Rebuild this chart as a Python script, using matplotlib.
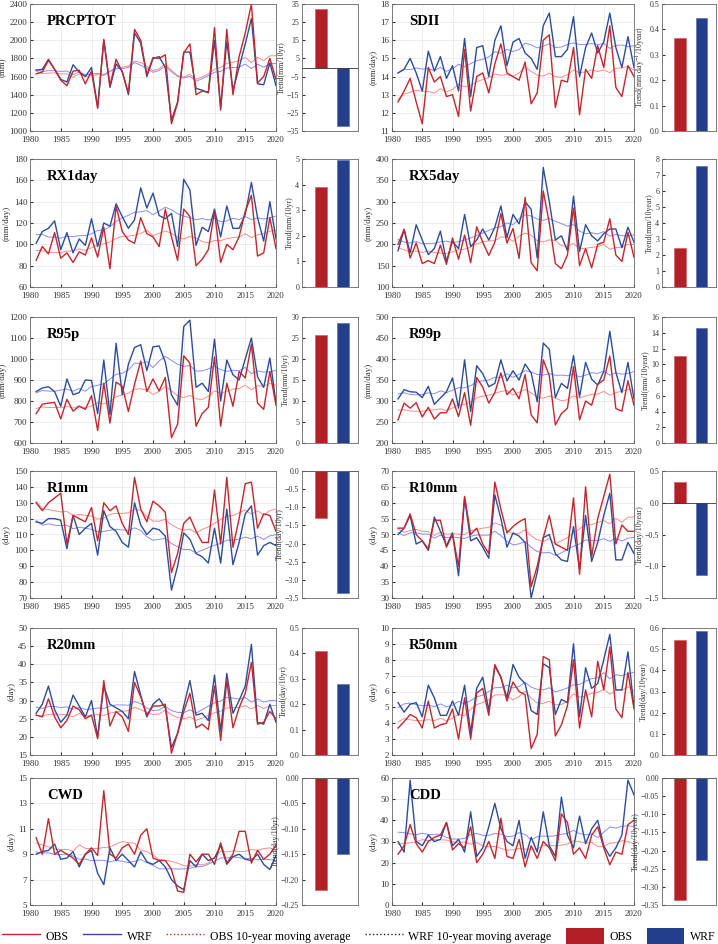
import numpy as np
import pandas as pd
import matplotlib
matplotlib.use("Agg")
import matplotlib.pyplot as plt
from matplotlib.lines import Line2D
from matplotlib.patches import Patch

plt.rcParams.update({
    "font.family": ["Liberation Serif", "DejaVu Serif"],
    "mathtext.fontset": "stix",
    "axes.unicode_minus": True,
})

# ---- data ----
YEARS = list(range(1981, 2021))

PRCPTOT_OBS = [1630, 1650, 1780, 1680, 1560, 1500, 1660, 1670, 1520, 1660,
               1250, 2010, 1500, 1790, 1650, 1420, 2120, 2000, 1620, 1810,
               1800, 1840, 1080, 1310, 1860, 1960, 1400, 1440, 1430, 2140,
               1230, 2120, 1400, 1820, 2080, 2400, 1530, 1600, 1800, 1570]
PRCPTOT_WRF = [1670, 1680, 1790, 1680, 1570, 1540, 1730, 1650, 1600, 1700,
               1260, 2000, 1480, 1740, 1660, 1400, 2080, 1970, 1600, 1800,
               1820, 1700, 1120, 1320, 1870, 1870, 1470, 1450, 1420, 2000,
               1260, 1990, 1450, 1700, 1960, 2240, 1520, 1510, 1750, 1500]

SDII_OBS = [12.6, 13.2, 13.9, 12.6, 11.4, 14.5, 13.7, 14.0, 12.9, 13.0,
            11.8, 15.5, 12.1, 14.0, 14.2, 13.1, 14.7, 15.8, 14.2, 14.0,
            13.8, 14.8, 12.5, 13.1, 16.0, 16.3, 12.3, 13.8, 13.7, 15.6,
            11.9, 14.4, 13.9, 15.7, 14.5, 16.8, 13.4, 12.9, 14.6, 14.0]
SDII_WRF = [14.2, 14.4, 15.0, 14.2, 13.2, 15.4, 14.3, 15.1, 13.9, 14.6,
            13.2, 16.1, 12.9, 15.6, 15.7, 14.0, 16.0, 16.8, 14.6, 15.9,
            16.1, 15.3, 15.0, 14.4, 16.8, 17.5, 15.1, 15.1, 15.5, 17.3,
            14.0, 15.6, 16.4, 15.3, 15.9, 17.5, 15.6, 14.5, 16.2, 14.5]

RX1DAY_OBS = [85, 98, 91, 111, 87, 92, 83, 93, 90, 106,
              88, 116, 77, 136, 112, 104, 101, 125, 110, 107,
              98, 133, 107, 85, 133, 126, 80, 86, 95, 131,
              83, 100, 95, 107, 131, 146, 89, 92, 125, 96]
RX1DAY_WRF = [101, 112, 115, 122, 95, 111, 92, 105, 99, 124,
              98, 120, 117, 138, 126, 115, 123, 153, 134, 148,
              127, 124, 129, 98, 161, 151, 99, 116, 112, 133,
              107, 136, 115, 115, 128, 158, 125, 103, 140, 105]

RX5DAY_OBS = [200, 235, 168, 203, 155, 162, 155, 198, 153, 215,
              165, 222, 157, 241, 205, 174, 205, 272, 203, 237,
              167, 310, 157, 138, 325, 250, 155, 143, 175, 285,
              150, 190, 145, 200, 205, 260, 175, 160, 228, 170]
RX5DAY_WRF = [185, 235, 180, 246, 210, 176, 190, 231, 160, 207,
              190, 270, 195, 210, 236, 210, 240, 290, 216, 270,
              248, 300, 282, 168, 380, 300, 210, 220, 185, 313,
              183, 246, 220, 208, 225, 236, 236, 192, 240, 205]

R95P_OBS = [740, 785, 790, 793, 715, 808, 752, 775, 760, 825,
            660, 885, 695, 890, 870, 750, 880, 990, 845, 905,
            848, 912, 625, 690, 1015, 980, 680, 740, 770, 1010,
            680, 885, 775, 940, 910, 1070, 790, 760, 940, 780]
R95P_WRF = [845, 862, 868, 845, 775, 905, 830, 840, 900, 898,
            740, 995, 735, 1075, 830, 975, 1055, 1068, 945, 1058,
            1062, 985, 830, 780, 1155, 1185, 865, 885, 845, 1095,
            800, 995, 925, 900, 1000, 1100, 915, 865, 1005, 790]

R99P_OBS = [255, 295, 283, 296, 262, 285, 257, 272, 272, 305,
            263, 320, 242, 356, 333, 295, 320, 367, 315, 330,
            305, 363, 267, 248, 398, 360, 243, 270, 283, 382,
            255, 300, 290, 340, 350, 407, 282, 276, 348, 290]
R99P_WRF = [305, 327, 322, 321, 308, 335, 292, 307, 322, 355,
            283, 398, 275, 384, 365, 334, 342, 398, 348, 372,
            350, 388, 367, 298, 438, 423, 308, 342, 330, 408,
            310, 392, 352, 338, 370, 466, 368, 320, 392, 305]

R1MM_OBS = [130, 125, 130, 133, 136, 104, 122, 120, 118, 127,
            106, 130, 125, 128, 117, 110, 146, 126, 118, 131,
            128, 124, 86, 98, 117, 121, 112, 105, 105, 138,
            104, 146, 102, 120, 142, 143, 114, 123, 122, 112]
R1MM_WRF = [118, 117, 120, 120, 119, 101, 122, 110, 114, 117,
            97, 125, 115, 112, 105, 102, 130, 116, 110, 114,
            113, 109, 75, 90, 111, 107, 98, 96, 92, 114,
            92, 126, 91, 105, 123, 128, 97, 103, 105, 103]

R10MM_OBS = [52, 52, 56.5, 50, 48, 45.5, 54.5, 54.5, 46, 50,
             40, 62, 50, 52, 47, 44, 66.5, 58, 50.5, 52.5,
             54, 55, 33.5, 40, 49, 56, 47, 46, 45, 61.5,
             37.5, 65, 43, 55, 62, 69, 47, 53, 51, 51]
R10MM_WRF = [50, 52, 56, 47, 48, 45, 55.5, 51, 46.5, 50.5,
             37, 61.5, 48, 49, 46, 42.5, 62.5, 55, 46, 50.5,
             49.5, 47.5, 30, 38, 49, 50, 44, 42, 41.5, 52.5,
             39, 56, 41.5, 47.5, 56, 63, 42, 42, 47.5, 44]

R20MM_OBS = [26, 25.5, 30.5, 25.5, 22.5, 24.5, 28.5, 27.5, 25, 26,
             19.5, 35.5, 23, 27, 25.5, 21.5, 35, 31, 26, 28.5,
             28.5, 29, 15.5, 21, 27, 32, 22.5, 23.5, 22, 34,
             19, 35.5, 22.5, 28, 32, 40.5, 23.5, 24, 27, 25]
R20MM_WRF = [26.5, 29, 34, 27.5, 24, 26, 31.5, 28.5, 25.5, 30,
             20, 34, 29, 28, 27, 25, 38, 31.5, 25.5, 29,
             30.5, 28, 17, 21, 28.5, 35.5, 26, 26.5, 24.5, 37,
             21.5, 37.5, 26.5, 30, 34, 45.5, 24, 23.5, 29, 24]

R50MM_OBS = [3.7, 4.1, 4.55, 4.35, 3.7, 5.4, 3.7, 3.9, 4.0, 4.9,
             3.0, 5.6, 3.0, 5.9, 6.2, 4.5, 7.7, 6.9, 5.4, 6.6,
             6.0, 5.8, 2.4, 3.3, 8.2, 8.0, 3.2, 3.9, 5.1, 8.0,
             3.7, 6.1, 4.4, 7.9, 6.1, 8.8, 4.9, 4.35, 7.2, 4.9]
R50MM_WRF = [5.3, 4.7, 5.2, 5.3, 4.4, 6.4, 5.6, 4.5, 4.5, 5.4,
             4.5, 6.4, 3.4, 6.2, 6.9, 4.8, 7.6, 6.9, 5.6, 7.7,
             6.9, 6.5, 4.8, 4.55, 7.75, 7.5, 4.55, 5.5, 5.3, 9.0,
             4.4, 7.5, 6.2, 6.5, 8.0, 9.6, 6.1, 6.1, 8.5, 5.0]

CWD_OBS = [10.3, 9.0, 11.8, 9.0, 9.3, 9.0, 8.7, 8.2, 9.0, 9.5,
           8.9, 14.0, 9.0, 8.7, 9.5, 9.8, 9.0, 10.5, 11.0, 8.7,
           8.5, 8.5, 7.8, 6.1, 6.0, 9.0, 8.4, 9.0, 9.0, 8.2,
           9.9, 8.3, 9.0, 10.8, 10.8, 8.3, 9.3, 8.6, 9.0, 9.7]
CWD_WRF = [9.0, 9.2, 9.3, 9.8, 8.6, 8.7, 9.2, 8.0, 9.0, 9.3,
           7.5, 6.6, 9.5, 8.5, 9.0, 8.5, 8.0, 9.2, 8.4, 8.2,
           8.5, 8.0, 7.0, 6.5, 6.2, 8.5, 8.0, 9.0, 8.5, 8.7,
           9.7, 8.2, 8.8, 9.0, 8.6, 8.5, 9.0, 8.2, 7.8, 8.9]

CDD_OBS = [24, 28, 38, 29, 25, 30, 32, 33, 39, 26,
           29, 27, 37, 20, 24, 30, 22, 41, 23, 22,
           31, 18, 28, 22, 30, 27, 21, 43, 39, 24,
           27, 22, 33, 37, 27, 19, 25, 24, 38, 40]
CDD_WRF = [30, 25, 59, 30, 28, 33, 30, 31, 39, 28,
           31, 25, 44, 23, 27, 37, 48, 36, 30, 28,
           40, 22, 32, 25, 44, 28, 23, 51, 33, 27,
           42, 29, 36, 40, 28, 23, 27, 33, 59, 52]

INDICES = ["PRCPTOT", "SDII", "RX1day", "RX5day", "R95p", "R99p",
           "R1mm", "R10mm", "R20mm", "R50mm", "CWD", "CDD"]
TREND_OBS = [32.0, 0.367, 3.9, 2.45, 25.7, 11.1, -1.3, 0.32, 0.41, 0.545, -0.22, -0.335]
TREND_WRF = [-32.5, 0.443, 4.95, 7.55, 28.5, 14.6, -3.35, -1.13, 0.28, 0.588, -0.15, -0.225]

SERIES = {
    "PRCPTOT": (PRCPTOT_OBS, PRCPTOT_WRF), "SDII": (SDII_OBS, SDII_WRF),
    "RX1day": (RX1DAY_OBS, RX1DAY_WRF), "RX5day": (RX5DAY_OBS, RX5DAY_WRF),
    "R95p": (R95P_OBS, R95P_WRF), "R99p": (R99P_OBS, R99P_WRF),
    "R1mm": (R1MM_OBS, R1MM_WRF), "R10mm": (R10MM_OBS, R10MM_WRF),
    "R20mm": (R20MM_OBS, R20MM_WRF), "R50mm": (R50MM_OBS, R50MM_WRF),
    "CWD": (CWD_OBS, CWD_WRF), "CDD": (CDD_OBS, CDD_WRF),
}

# ---- per-panel axis settings: ts ylim, ts step, bar ylim, bar step, ts ylabel, bar ylabel ----
PANEL = {
    "PRCPTOT": ((1000, 2400), 200, (-35, 35), 10, "(mm)", "Trend(mm/10yr)"),
    "SDII":    ((11, 18), 1, (0, 0.5), 0.1, "(mm/day)", "Trend(mm day$^{-1}$/10year)"),
    "RX1day":  ((60, 180), 20, (0, 5), 1, "(mm/day)", "Trend(mm/10yr)"),
    "RX5day":  ((100, 400), 50, (0, 8), 1, "(mm/day)", "Trend(mm/10year)"),
    "R95p":    ((600, 1200), 100, (0, 30), 5, "(mm/day)", "Trend(mm/10yr)"),
    "R99p":    ((200, 500), 50, (0, 16), 2, "(mm/day)", "Trend(mm/10year)"),
    "R1mm":    ((70, 150), 10, (-3.5, 0), 0.5, "(day)", "Trend(day/10yr)"),
    "R10mm":   ((30, 70), 5, (-1.5, 0.5), 0.5, "(day)", "Trend(day/10year)"),
    "R20mm":   ((15, 50), 5, (0, 0.5), 0.1, "(day)", "Trend(day/10yr)"),
    "R50mm":   ((2, 10), 1, (0, 0.6), 0.1, "(day)", "Trend(day/10year)"),
    "CWD":     ((5, 15), 2, (-0.25, 0), 0.05, "(day)", "Trend(day/10yr)"),
    "CDD":     ((0, 60), 10, (-0.35, 0), 0.05, "(day)", "Trend(day/10year)"),
}

C_OBS = "#c4262b"
C_WRF = "#2c4d9c"
C_OBS_MA = "#ff8a8a"
C_WRF_MA = "#8a8aff"
C_BAR_OBS = "#b22027"
C_BAR_WRF = "#233f8a"

W, H = 718, 944
ROWS = [(4, 131), (159, 287), (317, 443), (471, 598), (628, 755), (778, 905)]
COLS = [((30, 276), (302, 358)), ((392, 634), (662, 716))]


def px_axes(fig, x0, x1, y0, y1):
    return fig.add_axes([x0 / W, 1 - y1 / H, (x1 - x0) / W, (y1 - y0) / H])


def moving_avg(vals):
    return pd.Series(vals).rolling(10, center=True, min_periods=1).mean().values


fig = plt.figure(figsize=(W / 100, H / 100), dpi=100)

for k, name in enumerate(INDICES):
    r, c = k // 2, k % 2
    y0, y1 = ROWS[r]
    (tx0, tx1), (bx0, bx1) = COLS[c]
    ylim, ystep, blim, bstep, ylab, blab = PANEL[name]
    obs, wrf = SERIES[name]

    # 时间序列
    ax = px_axes(fig, tx0, tx1, y0, y1)
    ax.plot(YEARS, moving_avg(obs), color=C_OBS_MA, lw=0.7)
    ax.plot(YEARS, moving_avg(wrf), color=C_WRF_MA, lw=0.7)
    ax.plot(YEARS, wrf, color=C_WRF, lw=1.0)
    ax.plot(YEARS, obs, color=C_OBS, lw=1.0)
    ax.set_xlim(1980, 2020)
    ax.set_ylim(*ylim)
    ax.set_xticks(range(1980, 2021, 5))
    ax.set_yticks(np.arange(ylim[0], ylim[1] + ystep / 2, ystep))
    ax.grid(True, color="#e6e6e6", lw=0.5)
    ax.tick_params(direction="in", length=2.5, labelsize=6.5, pad=2, colors="#333")
    ax.tick_params(axis="x", pad=3.5)
    for s in ax.spines.values():
        s.set_color("#666")
        s.set_linewidth(0.6)
    ax.set_ylabel(ylab, fontsize=6.5, labelpad=2, color="#333")
    ax.text(0.07, 0.86, name, transform=ax.transAxes, fontsize=10.5,
            fontweight="bold", va="center", ha="left")

    # 趋势柱
    bx = px_axes(fig, bx0, bx1, y0, y1)
    bx.bar([1], [TREND_OBS[k]], width=0.55, color=C_BAR_OBS, edgecolor="#d06060", lw=0.5)
    bx.bar([2], [TREND_WRF[k]], width=0.55, color=C_BAR_WRF, edgecolor="#6070b0", lw=0.5)
    bx.axhline(0, color="#333", lw=0.6)
    bx.set_xlim(0.14, 2.68)
    bx.set_ylim(*blim)
    bx.set_xticks([])
    bx.set_yticks(np.arange(blim[0], blim[1] + bstep / 2, bstep))
    bx.tick_params(direction="in", length=2, labelsize=5.7, pad=2, colors="#333")
    for s in bx.spines.values():
        s.set_color("#666")
        s.set_linewidth(0.6)
    bx.set_ylabel(blab, fontsize=5.7, labelpad=1, color="#333")

handles = [
    Line2D([], [], color=C_OBS, lw=1.0),
    Line2D([], [], color=C_WRF, lw=1.0),
    Line2D([], [], color=C_OBS, lw=1.0, ls=":"),
    Line2D([], [], color="#222", lw=1.0, ls=":"),
    Patch(facecolor=C_BAR_OBS),
    Patch(facecolor=C_BAR_WRF),
]
labels = ["OBS", "WRF", "OBS 10-year moving average", "WRF 10-year moving average", "OBS", "WRF"]
fig.legend(handles, labels, loc="center", bbox_to_anchor=(0.5, 1 - 936 / H), ncol=6,
           frameon=False, fontsize=8.5, handlelength=3.2, handleheight=1.6,
           columnspacing=1.2, handletextpad=0.5)

fig.savefig("out.png", dpi=100)
